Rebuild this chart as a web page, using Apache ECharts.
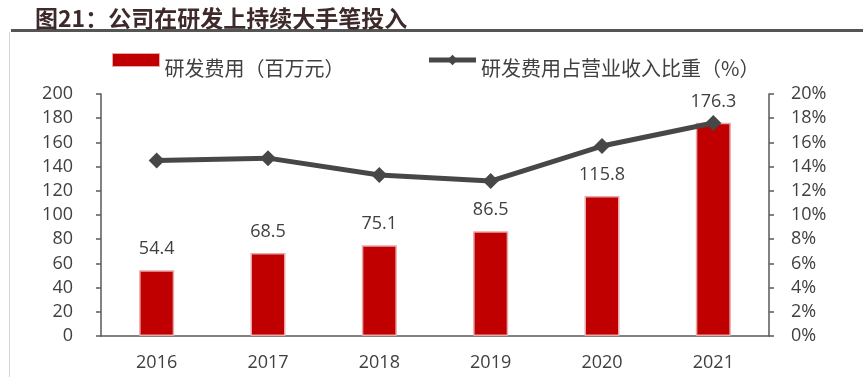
<!DOCTYPE html>
<html>
<head>
<meta charset="utf-8">
<script src="https://cdn.jsdelivr.net/npm/echarts@6/dist/echarts.min.js"></script>
<style>
  html, body { margin: 0; padding: 0; background: #fff; }
  #chart { width: 863px; height: 377px; }
</style>
</head>
<body>
<div id="chart"></div>
<script>
const years = ['2016', '2017', '2018', '2019', '2020', '2021'];
// 研发费用（百万元）
const rdExpense = [54.4, 68.5, 75.1, 86.5, 115.8, 176.3];
// 研发费用占营业收入比重（%）
const rdRatio = [14.5, 14.7, 13.3, 12.8, 15.7, 17.6];

const fontCn = '"Open Sans", "Noto Sans CJK SC", sans-serif';
const textColor = '#404040';

const chart = echarts.init(document.getElementById('chart'));

const option = {
    animation: false,
    title: {
        text: '图21：公司在研发上持续大手笔投入',
        left: 30,
        top: 2,
        textStyle: {
            fontFamily: '"Noto Sans CJK SC", sans-serif',
            fontSize: 23,
            fontWeight: 'bold',
            color: '#3e2a2a'
        }
    },
    graphic: [
        {
            type: 'rect',
            shape: { x: 11, y: 29, width: 852, height: 3 },
            style: { fill: '#555555' }
        },
        {
            type: 'rect',
            shape: { x: 9, y: 32, width: 1, height: 345 },
            style: { fill: '#d4d4d4' }
        }
    ],
    legend: {
        left: 107,
        top: 48,
        itemGap: 82,
        itemWidth: 47,
        itemHeight: 13,
        formatter: '{t|{name}}',
        textStyle: {
            fontFamily: '"Noto Sans CJK SC", sans-serif',
            fontSize: 20,
            color: textColor,
            rich: {
                t: {
                    fontFamily: '"Noto Sans CJK SC", sans-serif',
                    fontSize: 20,
                    color: textColor,
                    padding: [16, 0, 0, 0]
                }
            }
        },
        data: [
            { name: '研发费用（百万元）', icon: 'rect', itemStyle: { borderColor: '#E8A8A8', borderWidth: 1 } },
            { name: '研发费用占营业收入比重（%）', lineStyle: { width: 5, color: '#474747' } }
        ]
    },
    grid: { left: 101, right: 94, top: 94, bottom: 41 },
    xAxis: {
        type: 'category',
        data: years,
        axisLine: { lineStyle: { color: '#595959', width: 1.5 } },
        axisTick: { alignWithLabel: false, length: 6, lineStyle: { color: '#595959', width: 1.5 } },
        axisLabel: { margin: 18, fontFamily: fontCn, fontSize: 18, color: textColor }
    },
    yAxis: [
        {
            type: 'value',
            min: 0,
            max: 200,
            interval: 20,
            axisLine: { show: true, lineStyle: { color: '#595959', width: 1.5 } },
            axisTick: { show: true, length: 5, lineStyle: { color: '#595959', width: 1.5 } },
            splitLine: { show: false },
            axisLabel: { margin: 28, fontFamily: fontCn, fontSize: 18, color: textColor }
        },
        {
            type: 'value',
            min: 0,
            max: 20,
            interval: 2,
            axisLine: { show: true, lineStyle: { color: '#595959', width: 1.5 } },
            axisTick: { show: true, length: 5, lineStyle: { color: '#595959', width: 1.5 } },
            splitLine: { show: false },
            axisLabel: { margin: 22, formatter: '{value}%', fontFamily: fontCn, fontSize: 18, color: textColor }
        }
    ],
    series: [
        {
            name: '研发费用（百万元）',
            type: 'bar',
            data: rdExpense,
            barWidth: 35,
            itemStyle: { color: '#C00000', borderColor: '#E8A8A8', borderWidth: 1.5 },
            label: {
                show: true,
                position: 'top',
                distance: 12,
                fontFamily: fontCn,
                fontSize: 18,
                color: textColor
            }
        },
        {
            name: '研发费用占营业收入比重（%）',
            type: 'line',
            yAxisIndex: 1,
            data: rdRatio,
            symbol: 'diamond',
            symbolSize: 16,
            lineStyle: { color: '#474747', width: 5 },
            itemStyle: { color: '#474747' }
        }
    ]
};

chart.setOption(option);
</script>
</body>
</html>
